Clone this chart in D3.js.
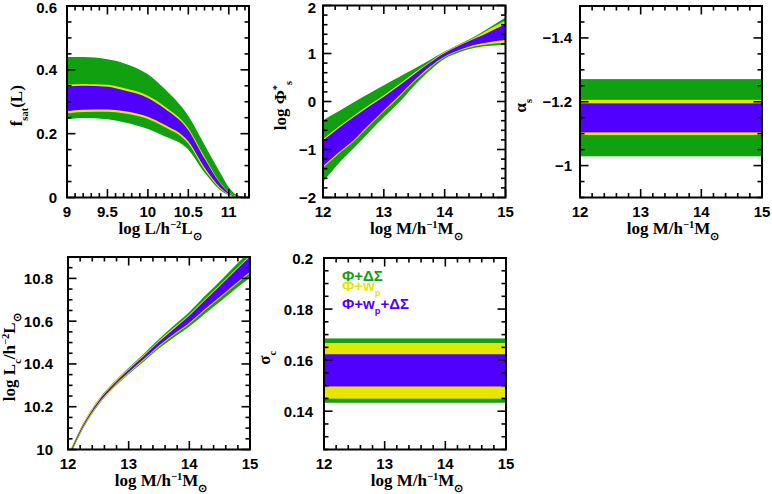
<!DOCTYPE html>
<html>
<head>
<meta charset="utf-8">
<script src="https://cdn.jsdelivr.net/npm/d3@7"></script>
<style>
  body { margin: 0; background: #fff; }
  svg { display: block; }
  text { font-weight: bold; }
</style>
</head>
<body>
<svg id="chart" width="772" height="494"></svg>
<script>
// ---- data ----
// f_sat(L)
const lumX = [9, 9.2, 9.5, 9.7, 10, 10.2, 10.5, 10.7, 10.9, 11, 11.1, 11.25];
const fsatGreenHi = [0.44, 0.44, 0.433, 0.421, 0.386, 0.342, 0.255, 0.165, 0.075, 0.032, 0.008, 0];
const fsatGreenLo = [0.245, 0.249, 0.245, 0.236, 0.215, 0.193, 0.150, 0.078, 0.022, 0.007, 0.001, 0];
const fsatYellowHi = [0.353, 0.356, 0.353, 0.343, 0.319, 0.287, 0.217, 0.128, 0.045, 0.017, 0.004, 0];
const fsatYellowLo = [0.263, 0.268, 0.269, 0.264, 0.246, 0.222, 0.169, 0.087, 0.026, 0.009, 0.0015, 0];
const fsatBlueHi = [0.348, 0.350, 0.347, 0.336, 0.312, 0.280, 0.211, 0.122, 0.042, 0.015, 0.003, 0];
const fsatBlueLo = [0.270, 0.275, 0.276, 0.271, 0.253, 0.229, 0.176, 0.094, 0.030, 0.011, 0.002, 0];

// log Phi*_s
const phiX = [12, 12.25, 12.5, 12.75, 13, 13.25, 13.5, 13.75, 14, 14.25, 14.5, 14.75, 15];
const phiGreenHi = [-0.39, -0.21, -0.02, 0.16, 0.34, 0.51, 0.68, 0.86, 1.04, 1.20, 1.36, 1.55, 1.75];
const phiGreenLo = [-1.67, -1.30, -0.98, -0.65, -0.33, -0.02, 0.33, 0.64, 0.89, 1.03, 1.12, 1.16, 1.18];
const phiYellowHi = [-0.78, -0.53, -0.30, -0.08, 0.13, 0.36, 0.60, 0.82, 1.03, 1.19, 1.34, 1.52, 1.69];
const phiYellowLo = [-1.38, -1.10, -0.84, -0.52, -0.21, 0.09, 0.41, 0.69, 0.92, 1.06, 1.15, 1.20, 1.22];
const phiBlueHi = [-0.81, -0.56, -0.33, -0.11, 0.10, 0.33, 0.57, 0.80, 1.01, 1.17, 1.31, 1.46, 1.61];
const phiBlueLo = [-1.35, -1.07, -0.81, -0.49, -0.18, 0.12, 0.44, 0.72, 0.94, 1.08, 1.18, 1.24, 1.28];

// alpha_s (constant bands)
const alphaGreen = [-1.271, -1.029];
const alphaYellow = [-1.206, -1.096];
const alphaBlue = [-1.195, -1.104];

// log L_c
const lcX = [12, 12.25, 12.5, 12.75, 13, 13.25, 13.5, 13.75, 14, 14.25, 14.5, 14.75, 15];
const lcGreenHi = [9.972, 10.122, 10.233, 10.313, 10.382, 10.448, 10.517, 10.581, 10.643, 10.716, 10.786, 10.858, 10.928];
const lcGreenLo = [9.948, 10.098, 10.207, 10.287, 10.352, 10.412, 10.473, 10.525, 10.575, 10.634, 10.690, 10.748, 10.804];
const lcYellowHi = [9.970, 10.120, 10.231, 10.311, 10.379, 10.443, 10.510, 10.571, 10.631, 10.701, 10.769, 10.839, 10.907];
const lcYellowLo = [9.950, 10.100, 10.209, 10.289, 10.355, 10.417, 10.480, 10.535, 10.587, 10.649, 10.707, 10.767, 10.825];
const lcBlueHi = [9.964, 10.114, 10.225, 10.305, 10.373, 10.437, 10.504, 10.565, 10.625, 10.695, 10.763, 10.833, 10.901];
const lcBlueLo = [9.956, 10.106, 10.215, 10.295, 10.361, 10.423, 10.486, 10.541, 10.593, 10.655, 10.713, 10.773, 10.831];

// sigma_c (constant bands)
const sigmaGreen = [0.1433, 0.1685];
const sigmaYellow = [0.1449, 0.1667];
const sigmaBlue = [0.1497, 0.1623];

const legendLabels = [
  [["Φ+ΔΣ", ""]],
  [["Φ+w", ""], ["p", "sub"]],
  [["Φ+w", ""], ["p", "sub"], ["+ΔΣ", ""]]
];

const GREEN = "#10a010", YELLOW = "#e6e600", BLUE = "#5000ff";
const TICKFONT = "'Liberation Sans', Arial, sans-serif";
const LABFONT = "'Liberation Serif', 'Times New Roman', serif";

const svg = d3.select("#chart");

// rich text: pieces of [string, "", "sub", "sup"]
function richText(sel, pieces, size) {
  let shift = 0;
  pieces.forEach(([s, kind]) => {
    let target = 0, fs = size;
    if (kind === "sub") { target = size * 0.35; fs = size * 0.62; }
    if (kind === "sup") { target = -size * 0.38; fs = size * 0.62; }
    sel.append("tspan")
      .attr("dy", target - shift)
      .style("font-size", fs + "px")
      .text(s);
    shift = target;
  });
}

function tickValues(domain, step) {
  const lo = Math.min(...domain), hi = Math.max(...domain);
  return d3.range(Math.ceil(lo / step - 1e-6), Math.floor(hi / step + 1e-6) + 1)
    .map(k => +(k * step).toFixed(6));
}
const isMajor = (v, major) => Math.abs(v / major - Math.round(v / major)) < 1e-6;
const fmt = v => String(+v.toFixed(4)).replace("-", "−");

function panel(o) {
  const x = d3.scaleLinear().domain(o.xDomain).range([o.left, o.right]);
  const y = d3.scaleLinear().domain(o.yDomain).range([o.bottom, o.top]);
  const g = svg.append("g");
  const clipId = "clip-" + o.id;
  g.append("clipPath").attr("id", clipId).append("rect")
    .attr("x", o.left).attr("y", o.top)
    .attr("width", o.right - o.left).attr("height", o.bottom - o.top);
  const body = g.append("g").attr("clip-path", `url(#${clipId})`);

  o.draw(body, x, y);

  // frame
  g.append("rect")
    .attr("x", o.left).attr("y", o.top)
    .attr("width", o.right - o.left).attr("height", o.bottom - o.top)
    .attr("fill", "none").attr("stroke", "#000").attr("stroke-width", 2);

  const tg = g.append("g").attr("stroke", "#000").attr("stroke-width", 1.6);
  tickValues(o.xDomain, o.xMinor).forEach(v => {
    const len = isMajor(v, o.xMajor) ? 8.5 : 4.5;
    const px = x(v);
    tg.append("line").attr("x1", px).attr("x2", px).attr("y1", o.bottom).attr("y2", o.bottom - len);
    tg.append("line").attr("x1", px).attr("x2", px).attr("y1", o.top).attr("y2", o.top + len);
  });
  tickValues(o.yDomain, o.yMinor).forEach(v => {
    const len = isMajor(v, o.yMajor) ? 8.5 : 4.5;
    const py = y(v);
    tg.append("line").attr("y1", py).attr("y2", py).attr("x1", o.left).attr("x2", o.left + len);
    tg.append("line").attr("y1", py).attr("y2", py).attr("x1", o.right).attr("x2", o.right - len);
  });

  // tick labels
  tickValues(o.xDomain, o.xMajor).forEach(v => {
    g.append("text")
      .attr("x", x(v)).attr("y", o.bottom + 19.5)
      .attr("text-anchor", "middle")
      .style("font-family", TICKFONT).style("font-size", "15px")
      .text(fmt(v));
  });
  tickValues(o.yDomain, o.yMajor).forEach(v => {
    g.append("text")
      .attr("x", o.left - o.labelGap).attr("y", Math.max(y(v) + 5.5, 13))
      .attr("text-anchor", "end")
      .style("font-family", TICKFONT).style("font-size", "15px")
      .text(fmt(v));
  });

  // axis titles
  const xt = g.append("text")
    .attr("x", (o.left + o.right) / 2 + 2).attr("y", o.bottom + 36.5)
    .attr("text-anchor", "middle")
    .style("font-family", LABFONT).style("font-size", "17px");
  richText(xt, o.xTitle, 17);
  const yt = g.append("text")
    .attr("transform", `translate(${o.yTitleX},${(o.top + o.bottom) / 2 + 4}) rotate(-90)`)
    .attr("text-anchor", "middle")
    .style("font-family", LABFONT).style("font-size", "17px");
  richText(yt, o.yTitle, 17);

  return { x, y, g };
}

function curveBand(body, x, y, xs, lo, hi, color) {
  const area = d3.area()
    .x((d, i) => x(xs[i]))
    .y0((d, i) => y(lo[i]))
    .y1((d, i) => y(hi[i]))
    .curve(d3.curveMonotoneX);
  body.append("path").datum(xs).attr("d", area).attr("fill", color);
}

function flatBand(body, x, y, range, color) {
  const [a, b] = range.map(y);
  body.append("rect")
    .attr("x", x.range()[0]).attr("width", x.range()[1] - x.range()[0])
    .attr("y", Math.min(a, b)).attr("height", Math.abs(a - b))
    .attr("fill", color);
}

const massTitle = [["log M/h", ""], ["−1", "sup"], ["M", ""], ["⊙", "sub"]];

panel({
  id: 1, left: 67, right: 249, top: 6, bottom: 197.5,
  xDomain: [9, 11.25], yDomain: [0, 0.6],
  xMinor: 0.1, xMajor: 0.5, yMinor: 0.05, yMajor: 0.2, labelGap: 10,
  xTitle: [["log L/h", ""], ["−2", "sup"], ["L", ""], ["⊙", "sub"]],
  yTitle: [["f", ""], ["sat", "sub"], ["(L)", ""]], yTitleX: 22,
  draw(body, x, y) {
    curveBand(body, x, y, lumX, fsatGreenLo, fsatGreenHi, GREEN);
    curveBand(body, x, y, lumX, fsatYellowLo, fsatYellowHi, YELLOW);
    curveBand(body, x, y, lumX, fsatBlueLo, fsatBlueHi, BLUE);
  }
});

panel({
  id: 2, left: 323, right: 505.5, top: 5.5, bottom: 197.5,
  xDomain: [12, 15], yDomain: [-2, 2],
  xMinor: 0.2, xMajor: 1, yMinor: 0.2, yMajor: 1, labelGap: 7,
  xTitle: massTitle,
  yTitle: [["log Φ", ""], ["*", "sup"], ["s", "sub"]], yTitleX: 286,
  draw(body, x, y) {
    curveBand(body, x, y, phiX, phiGreenLo, phiGreenHi, GREEN);
    curveBand(body, x, y, phiX, phiYellowLo, phiYellowHi, YELLOW);
    curveBand(body, x, y, phiX, phiBlueLo, phiBlueHi, BLUE);
  }
});

panel({
  id: 3, left: 580, right: 762, top: 6, bottom: 197.5,
  xDomain: [12, 15], yDomain: [-0.9, -1.5],
  xMinor: 0.2, xMajor: 1, yMinor: 0.05, yMajor: 0.2, labelGap: 8,
  xTitle: massTitle,
  yTitle: [["α", ""], ["s", "sub"]], yTitleX: 526,
  draw(body, x, y) {
    flatBand(body, x, y, alphaGreen, GREEN);
    flatBand(body, x, y, alphaYellow, YELLOW);
    flatBand(body, x, y, alphaBlue, BLUE);
  }
});

panel({
  id: 4, left: 68, right: 250, top: 257, bottom: 449.5,
  xDomain: [12, 15], yDomain: [10, 10.9],
  xMinor: 0.2, xMajor: 1, yMinor: 0.05, yMajor: 0.2, labelGap: 15,
  xTitle: massTitle,
  yTitle: [["log L", ""], ["c", "sub"], ["/h", ""], ["−2", "sup"], ["L", ""], ["⊙", "sub"]], yTitleX: 15,
  draw(body, x, y) {
    curveBand(body, x, y, lcX, lcGreenLo, lcGreenHi, GREEN);
    curveBand(body, x, y, lcX, lcYellowLo, lcYellowHi, YELLOW);
    curveBand(body, x, y, lcX, lcBlueLo, lcBlueHi, BLUE);
  }
});

const p5 = panel({
  id: 5, left: 324, right: 506, top: 258, bottom: 449.5,
  xDomain: [12, 15], yDomain: [0.125, 0.2],
  xMinor: 0.2, xMajor: 1, yMinor: 0.005, yMajor: 0.02, labelGap: 11,
  xTitle: massTitle,
  yTitle: [["σ", ""], ["c", "sub"]], yTitleX: 270,
  draw(body, x, y) {
    flatBand(body, x, y, sigmaGreen, GREEN);
    flatBand(body, x, y, sigmaYellow, YELLOW);
    flatBand(body, x, y, sigmaBlue, BLUE);
  }
});

// legend
const legendColors = [GREEN, YELLOW, BLUE];
const legendY = [281, 291, 309];
legendLabels.forEach((pieces, i) => {
  const t = p5.g.append("text")
    .attr("x", 342).attr("y", legendY[i])
    .attr("fill", legendColors[i])
    .style("font-family", TICKFONT).style("font-size", "15px");
  richText(t, pieces, 15);
});
</script>
</body>
</html>
